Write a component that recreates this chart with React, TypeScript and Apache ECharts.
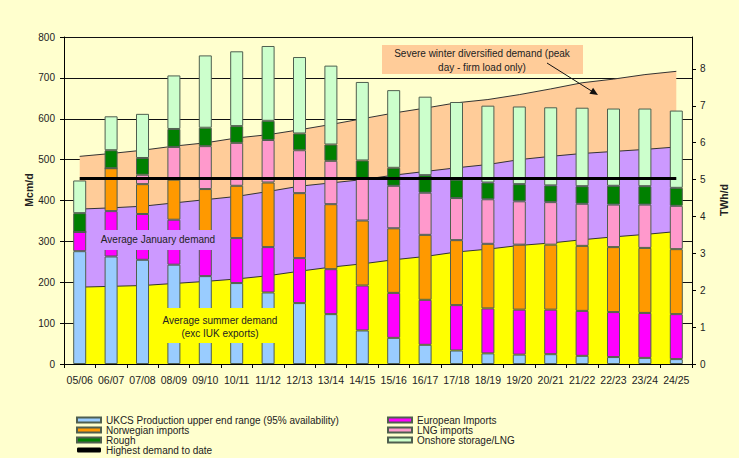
import React, { useEffect, useRef } from "react";
import * as echarts from "echarts";

const categories = ["05/06", "06/07", "07/08", "08/09", "09/10", "10/11", "11/12", "12/13", "13/14", "14/15", "15/16", "16/17", "17/18", "18/19", "19/20", "20/21", "21/22", "22/23", "23/24", "24/25"];

// Supply bars (Mcm/d), stacked bottom to top
const ukcsProduction = [276, 263, 255, 243, 215, 198, 175, 149, 122, 82, 64, 47, 33, 26, 23, 24, 20, 17, 15, 12];
const europeanImports = [47, 111, 112, 110, 110, 110, 111, 110, 110, 110, 110, 110, 111, 110, 110, 109, 110, 110, 110, 110];
const norwegianImports = [0, 105, 73, 98, 103, 128, 158, 159, 159, 159, 158, 159, 159, 158, 159, 159, 159, 159, 159, 159];
const lngImports = [0, 0, 23, 80, 105, 105, 104, 105, 106, 102, 104, 103, 103, 109, 106, 104, 103, 104, 106, 106];
const rough = [46, 44, 41, 44, 45, 41, 47, 41, 40, 45, 44, 43, 45, 41, 42, 41, 43, 46, 45, 44];
const onshoreStorage = [80, 83, 108, 131, 177, 183, 183, 187, 193, 192, 190, 192, 190, 188, 190, 191, 192, 189, 190, 189];

// Demand levels (Mcm/d)
const summerDemand = [188, 190, 192, 197, 202, 208, 216, 227, 237, 245, 255, 263, 274, 281, 290, 296, 304, 311, 317, 324];
const januaryDemand = [379, 382, 386, 394, 402, 410, 422, 435, 443, 451, 462, 471, 480, 488, 500, 508, 515, 520, 525, 531];
const severeWinterDemand = [508, 515, 523, 533, 541, 553, 561, 573, 586, 600, 614, 626, 639, 647, 659, 673, 688, 697, 708, 716];
const highestDemandToDate = 454;

const leftTicks = { min: 0, max: 800, interval: 100 };
const rightTicks = { min: 0, max: 8.866, interval: 1 };

const FONT = "'Liberation Sans', Arial, sans-serif";
const TXT = "#222";

export default function App() {
  const ref = useRef<HTMLDivElement>(null);
  useEffect(() => {
    if (!ref.current) return;
    const chart = echarts.init(ref.current, null, { renderer: "svg" });
    const barBorder = { borderColor: "#4f5f4f", borderWidth: 1 };
    const bar = (name: string, data: number[], color: string) => ({
      name,
      type: "bar",
      stack: "supply",
      data,
      barWidth: 13,
      z: 4,
      itemStyle: { color, ...barBorder },
    });
    const area = (name: string, data: number[], color: string, z: number) => ({
      name,
      type: "line",
      data,
      symbol: "none",
      silent: true,
      z,
      lineStyle: { color: "#333", width: 1 },
      areaStyle: { color, opacity: 1 },
    });
    const legendBase = {
      orient: "vertical",
      top: 415,
      itemWidth: 24,
      itemHeight: 5,
      itemGap: 0,
      padding: 0,
      textStyle: { fontSize: 10, lineHeight: 10, color: TXT, fontFamily: FONT },
    };
    chart.setOption({
      animation: false,
      backgroundColor: "#FFFFCE",
      textStyle: { fontFamily: FONT },
      grid: { left: 64, right: 47, top: 37, bottom: 94 },
      legend: [
        {
          ...legendBase,
          left: 76,
          data: [
            { name: "UKCS Production upper end range (95% availability)", icon: "rect" },
            { name: "Norwegian imports", icon: "rect" },
            { name: "Rough", icon: "rect" },
            { name: "Highest demand to date", icon: "roundRect", itemStyle: { color: "#000", borderWidth: 0 } },
          ],
        },
        {
          ...legendBase,
          left: 387,
          data: [
            { name: "European Imports", icon: "rect" },
            { name: "LNG imports", icon: "rect" },
            { name: "Onshore storage/LNG", icon: "rect" },
          ],
        },
      ],
      xAxis: {
        type: "category",
        data: categories,
        boundaryGap: true,
        axisLine: { lineStyle: { color: "#000", width: 1 } },
        axisTick: { show: true, length: 4, lineStyle: { color: "#000" } },
        axisLabel: { margin: 10, fontSize: 10.5, color: TXT, fontFamily: FONT, interval: 0 },
        z: 10,
      },
      yAxis: [
        {
          type: "value",
          ...leftTicks,
          position: "left",
          axisLine: { show: true, lineStyle: { color: "#000" } },
          axisTick: { show: true, length: 4, lineStyle: { color: "#000" } },
          axisLabel: { margin: 9, fontSize: 10, color: TXT, fontFamily: FONT },
          splitLine: { show: true, lineStyle: { color: "#111", width: 1 } },
        },
        {
          type: "value",
          ...rightTicks,
          position: "right",
          axisLine: { show: true, lineStyle: { color: "#000" } },
          axisTick: { show: true, length: 4, lineStyle: { color: "#000" } },
          axisLabel: { margin: 8, fontSize: 10, color: TXT, fontFamily: FONT, showMaxLabel: false },
          splitLine: { show: false },
        },
      ],
      series: [
        area("Severe winter diversified demand", severeWinterDemand, "#FFCC99", 1),
        area("Average January demand", januaryDemand, "#CC99FF", 2),
        area("Average summer demand", summerDemand, "#FFFF00", 3),
        bar("UKCS Production upper end range (95% availability)", ukcsProduction, "#99CCFF"),
        bar("European Imports", europeanImports, "#FF00FF"),
        bar("Norwegian imports", norwegianImports, "#FF9900"),
        bar("LNG imports", lngImports, "#FF99CC"),
        bar("Rough", rough, "#008000"),
        bar("Onshore storage/LNG", onshoreStorage, "#CCFFCC"),
        {
          name: "Highest demand to date",
          type: "line",
          data: categories.map(() => highestDemandToDate),
          symbol: "none",
          lineStyle: { color: "#000", width: 3 },
          itemStyle: { color: "#000" },
          z: 6,
        },
      ],
      graphic: [
        { type: "rect", z: 100, shape: { x: 97, y: 230, width: 123, height: 20 }, style: { fill: "#CC99FF" } },
        { type: "text", z: 101, x: 158, y: 239.5, style: { text: "Average January demand", fontSize: 10, fontFamily: FONT, fill: TXT, align: "center", verticalAlign: "middle" } },
        { type: "rect", z: 100, shape: { x: 152, y: 308, width: 136, height: 35 }, style: { fill: "#FFFF00" } },
        { type: "text", z: 101, x: 220, y: 320.5, style: { text: "Average summer demand", fontSize: 10, fontFamily: FONT, fill: TXT, align: "center", verticalAlign: "middle" } },
        { type: "text", z: 101, x: 220, y: 333.5, style: { text: "(exc IUK exports)", fontSize: 10, fontFamily: FONT, fill: TXT, align: "center", verticalAlign: "middle" } },
        { type: "rect", z: 100, shape: { x: 382, y: 45, width: 201, height: 29 }, style: { fill: "#FFCC99" } },
        { type: "text", z: 101, x: 482, y: 53.5, style: { text: "Severe winter diversified demand (peak", fontSize: 10, fontFamily: FONT, fill: TXT, align: "center", verticalAlign: "middle" } },
        { type: "text", z: 101, x: 482, y: 67, style: { text: "day - firm load only)", fontSize: 10, fontFamily: FONT, fill: TXT, align: "center", verticalAlign: "middle" } },
        { type: "line", z: 101, shape: { x1: 547, y1: 63, x2: 592, y2: 91.3 }, style: { stroke: "#111", lineWidth: 1 } },
        { type: "polygon", z: 101, shape: { points: [[598, 95], [589.4, 93.7], [593.1, 87.8]] }, style: { fill: "#111" } },
        { type: "text", z: 101, x: 29, y: 190, rotation: Math.PI / 2, style: { text: "Mcm/d", fontSize: 10.5, fontWeight: "bold", fontFamily: FONT, fill: TXT, align: "center", verticalAlign: "middle" } },
        { type: "text", z: 101, x: 724, y: 200, rotation: Math.PI / 2, style: { text: "TWh/d", fontSize: 10.5, fontWeight: "bold", fontFamily: FONT, fill: TXT, align: "center", verticalAlign: "middle" } },
      ],
    });
    return () => chart.dispose();
  }, []);
  return <div ref={ref} style={{ position: "absolute", left: 0, top: 0, width: 739, height: 458 }} />;
}
